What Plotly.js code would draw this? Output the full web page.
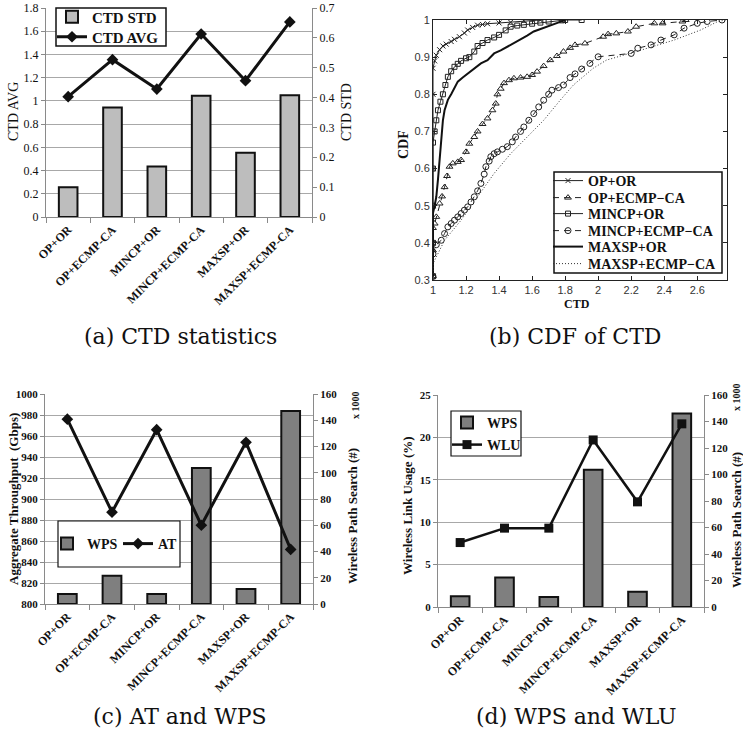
<!DOCTYPE html>
<html>
<head>
<meta charset="utf-8">
<script src="https://cdn.plot.ly/plotly-3.0.1.min.js"></script>
<style>html,body{margin:0;padding:0;background:#fff}#chart{width:743px;height:741px}</style>
</head>
<body>
<div id="chart"></div>
<script>
// ---------- data ----------
const categories = ['OP+OR','OP+ECMP-CA','MINCP+OR','MINCP+ECMP-CA','MAXSP+OR','MAXSP+ECMP-CA'];

// (a) CTD statistics
const ctdStd = [0.100, 0.367, 0.169, 0.406, 0.215, 0.408];
const ctdAvg = [1.036, 1.355, 1.102, 1.576, 1.174, 1.680];

// (b) CDF of CTD
const opOrX = [1,1,1,1,1,1,1,1.01,1.02,1.04,1.06,1.08,1.11,1.13,1.16,1.19,1.21,1.24,1.27,1.30,1.33,1.40,1.47,1.55,1.65];
const opOrY = [0.31,0.40,0.50,0.60,0.70,0.80,0.87,0.89,0.905,0.92,0.93,0.935,0.942,0.948,0.955,0.965,0.973,0.980,0.986,0.988,0.990,0.992,0.994,0.998,1.0];

const opEcmpX = [1,1,1,1.01,1.02,1.04,1.055,1.07,1.085,1.10,1.12,1.15,1.17,1.20,1.22,1.25,1.27,1.30,1.33,1.36,1.38,1.39,1.41,1.43,1.46,1.49,1.53,1.57,1.60,1.63,1.67,1.71,1.75,1.79,1.83,1.86,1.92,2.03,2.06,2.11,2.18,2.23,2.34,2.39,2.51,2.53];
const opEcmpY = [0.31,0.38,0.44,0.452,0.47,0.506,0.525,0.55,0.58,0.605,0.614,0.618,0.623,0.645,0.667,0.685,0.70,0.72,0.735,0.757,0.775,0.80,0.815,0.83,0.838,0.843,0.845,0.847,0.852,0.861,0.876,0.892,0.903,0.915,0.925,0.933,0.937,0.955,0.962,0.964,0.969,0.982,0.991,0.991,0.996,1.0];

const mincpOrX = [1,1,1,1,1,1.01,1.02,1.03,1.045,1.06,1.075,1.09,1.11,1.13,1.15,1.17,1.20,1.22,1.25,1.27,1.30,1.33,1.37,1.40,1.44,1.47,1.51,1.55,1.60,1.65,1.70,1.78,1.80,1.90];
const mincpOrY = [0.31,0.40,0.50,0.60,0.67,0.70,0.73,0.757,0.78,0.80,0.825,0.847,0.862,0.874,0.882,0.89,0.897,0.90,0.915,0.93,0.938,0.946,0.953,0.96,0.972,0.982,0.985,0.987,0.99,0.993,0.996,0.999,1.0,1.0];

const mincpEcmpX = [1,1,1.02,1.05,1.07,1.09,1.11,1.13,1.15,1.17,1.19,1.21,1.23,1.25,1.27,1.29,1.31,1.32,1.34,1.35,1.37,1.39,1.42,1.45,1.48,1.50,1.53,1.55,1.58,1.61,1.64,1.67,1.70,1.72,1.76,1.79,1.83,1.86,1.90,1.95,2.00,2.20,2.24,2.32,2.38,2.46,2.52,2.60,2.66,2.75];
const mincpEcmpY = [0.31,0.37,0.395,0.407,0.425,0.443,0.452,0.461,0.47,0.479,0.488,0.497,0.51,0.524,0.54,0.56,0.585,0.605,0.62,0.632,0.64,0.645,0.652,0.659,0.672,0.685,0.70,0.712,0.73,0.748,0.766,0.784,0.80,0.811,0.818,0.825,0.845,0.855,0.868,0.883,0.901,0.91,0.924,0.933,0.946,0.96,0.978,0.991,0.996,1.0];

const maxspOrX = [1,1,1.01,1.02,1.03,1.04,1.05,1.06,1.07,1.08,1.09,1.11,1.13,1.15,1.18,1.21,1.25,1.29,1.33,1.37,1.41,1.45,1.49,1.53,1.57,1.61,1.65,1.69,1.73,1.77,1.80];
const maxspOrY = [0.31,0.48,0.50,0.524,0.57,0.62,0.686,0.73,0.757,0.775,0.785,0.80,0.818,0.834,0.845,0.856,0.87,0.883,0.892,0.91,0.918,0.928,0.938,0.946,0.958,0.969,0.975,0.982,0.988,0.995,1.0];

const maxspEcmpX = [1,1,1.07,1.17,1.27,1.37,1.47,1.57,1.67,1.77,1.85,1.97,2.05,2.26,2.46,2.62,2.72,2.77];
const maxspEcmpY = [0.30,0.344,0.407,0.461,0.524,0.587,0.64,0.686,0.73,0.784,0.825,0.87,0.892,0.919,0.946,0.973,0.995,1.0];

// (c) AT and WPS
const wpsC = [7.6, 21.6, 7.6, 103.7, 11.4, 147];
const atC = [976, 887.5, 966, 875, 954, 852];

// (d) WPS and WLU
const wpsD = [8.1, 22.3, 7.6, 103.5, 11.6, 146];
const wluD = [7.6, 9.3, 9.3, 19.7, 12.4, 21.6];

// ---------- helpers ----------
const W = 743, H = 741;
const px = v => v / W;
const py = v => 1 - v / H;
const SERIF = "'Liberation Serif', 'Times New Roman', Times, serif";
const SANS = "'Liberation Sans', Arial, sans-serif";
const CAP = "'DejaVu Serif', serif";
const AX = '#8a8a8a', GRID = '#a8a8a8';

const barBase = (y, xa, ya, name, color, leg) => ({
  type: 'bar', x: categories, y: y, xaxis: xa, yaxis: ya, name: name, legend: leg,
  width: 0.42, marker: {color: color, line: {color: '#111', width: 2}}
});

const traces = [
  // (a)
  barBase(ctdStd, 'x', 'y', 'CTD STD', '#bdbdbd', 'legend'),
  {type: 'scatter', mode: 'lines+markers', x: categories, y: ctdAvg, xaxis: 'x', yaxis: 'y2', name: 'CTD AVG', legend: 'legend2',
   line: {color: '#111', width: 3}, marker: {symbol: 'diamond', size: 9, color: '#111'}},
  // (b)
  {type: 'scatter', mode: 'lines+markers', x: opOrX, y: opOrY, xaxis: 'x2', yaxis: 'y3', name: 'OP+OR', legend: 'legend3',
   line: {color: '#222', width: 1}, marker: {symbol: 'x-thin-open', size: 5, color: '#222', line: {color: '#222', width: 1}}},
  {type: 'scatter', mode: 'lines+markers', x: opEcmpX, y: opEcmpY, xaxis: 'x2', yaxis: 'y3', name: 'OP+ECMP\u2212CA', legend: 'legend4',
   line: {color: '#222', width: 1, dash: '6px,5px'}, marker: {symbol: 'triangle-up-open', size: 6, color: '#222', line: {width: 1}}},
  {type: 'scatter', mode: 'lines+markers', x: mincpOrX, y: mincpOrY, xaxis: 'x2', yaxis: 'y3', name: 'MINCP+OR', legend: 'legend5',
   line: {color: '#222', width: 1}, marker: {symbol: 'square-open', size: 5, color: '#222', line: {width: 1}}},
  {type: 'scatter', mode: 'lines+markers', x: mincpEcmpX, y: mincpEcmpY, xaxis: 'x2', yaxis: 'y3', name: 'MINCP+ECMP\u2212CA', legend: 'legend6',
   line: {color: '#222', width: 1, dash: '6px,5px'}, marker: {symbol: 'circle-open', size: 6, color: '#222', line: {width: 1}}},
  {type: 'scatter', mode: 'lines', x: maxspOrX, y: maxspOrY, xaxis: 'x2', yaxis: 'y3', name: 'MAXSP+OR', legend: 'legend7',
   line: {color: '#111', width: 2}},
  {type: 'scatter', mode: 'lines', x: maxspEcmpX, y: maxspEcmpY, xaxis: 'x2', yaxis: 'y3', name: 'MAXSP+ECMP\u2212CA', legend: 'legend8',
   line: {color: '#333', width: 1, dash: '1px,2px'}},
  // (c)
  barBase(wpsC, 'x3', 'y4', 'WPS', '#7f7f7f', 'legend9'),
  {type: 'scatter', mode: 'lines+markers', x: categories, y: atC, xaxis: 'x3', yaxis: 'y5', name: 'AT', legend: 'legend12',
   line: {color: '#111', width: 3}, marker: {symbol: 'diamond', size: 9, color: '#111'}},
  // (d)
  barBase(wpsD, 'x4', 'y6', 'WPS', '#7f7f7f', 'legend10'),
  {type: 'scatter', mode: 'lines+markers', x: categories, y: wluD, xaxis: 'x4', yaxis: 'y7', name: 'WLU', legend: 'legend11',
   line: {color: '#111', width: 2.5}, marker: {symbol: 'square', size: 9, color: '#111'}}
];

const catAxis = (dom, anchor) => ({
  domain: dom, anchor: anchor, type: 'category', tickangle: -45,
  tickfont: {family: SERIF, size: 12, color: '#111', weight: 'bold'},
  ticks: 'outside', tickson: 'boundaries', ticklen: 5, tickcolor: AX,
  showline: true, linecolor: AX, linewidth: 1, showgrid: false, zeroline: false, fixedrange: true
});
const valAxis = (opts, bold) => Object.assign({
  ticks: 'outside', ticklen: 4, tickcolor: AX, showline: true, linecolor: AX, linewidth: 1,
  zeroline: false, tickfont: {family: SERIF, size: bold ? 11 : 12, color: '#111', weight: bold ? 'bold' : 'normal'},
  gridcolor: GRID, gridwidth: 1
}, opts);

const legFont = (s) => ({family: SERIF, size: s, color: '#111', weight: 'bold'});
const oneLegend = (xPix, yPix, s) => ({x: px(xPix), y: py(yPix), xanchor: 'left', yanchor: 'middle',
  bgcolor: 'rgba(0,0,0,0)', borderwidth: 0, font: legFont(s)});

const layout = {
  width: W, height: H, autosize: false,
  margin: {l: 0, r: 0, t: 0, b: 0, pad: 0},
  paper_bgcolor: '#fff', plot_bgcolor: 'rgba(0,0,0,0)',
  barmode: 'group', showlegend: true,
  // (a)
  xaxis: catAxis([px(46), px(312)], 'y'),
  yaxis: valAxis({domain: [py(217), py(8)], anchor: 'x', side: 'right', range: [0, 0.7], dtick: 0.1, tick0: 0, showgrid: false}),
  yaxis2: valAxis({overlaying: 'y', anchor: 'x', side: 'left', range: [0, 1.8], dtick: 0.2, tick0: 0, showgrid: true}),
  // (b)
  xaxis2: {domain: [px(433), px(727)], anchor: 'y3', range: [1, 2.78], dtick: 0.2, tick0: 1,
    ticks: 'inside', ticklen: 4, tickcolor: '#222', showline: true, mirror: 'ticks', linecolor: '#222', linewidth: 1,
    showgrid: false, zeroline: false, tickfont: {family: SANS, size: 11, color: '#333'}},
  yaxis3: {domain: [py(280), py(20)], anchor: 'x2', range: [0.3, 1], dtick: 0.1, tick0: 0.3,
    ticks: 'inside', ticklen: 4, tickcolor: '#222', showline: true, mirror: 'ticks', linecolor: '#222', linewidth: 1,
    showgrid: false, zeroline: false, tickfont: {family: SANS, size: 11, color: '#333'}},
  // (c)
  xaxis3: catAxis([px(45), px(313)], 'y4'),
  yaxis4: valAxis({domain: [py(604), py(394)], anchor: 'x3', side: 'right', range: [0, 160], dtick: 20, tick0: 0, showgrid: false}, true),
  yaxis5: valAxis({overlaying: 'y4', anchor: 'x3', side: 'left', range: [800, 1000], dtick: 20, tick0: 800, showgrid: true}, true),
  // (d)
  xaxis4: catAxis([px(438), px(704)], 'y6'),
  yaxis6: valAxis({domain: [py(607), py(395)], anchor: 'x4', side: 'right', range: [0, 160], dtick: 20, tick0: 0, showgrid: false}, true),
  yaxis7: valAxis({overlaying: 'y6', anchor: 'x4', side: 'left', range: [0, 25], dtick: 5, tick0: 0, showgrid: true}, true),

  // legends: one entry each so rows sit where the reference puts them
  legend: oneLegend(52, 17, 15),
  legend2: oneLegend(52, 37, 15),
  legend3: oneLegend(548, 181, 14),
  legend4: oneLegend(548, 198, 14),
  legend5: oneLegend(548, 214, 14),
  legend6: oneLegend(548, 231, 14),
  legend7: oneLegend(548, 247, 14),
  legend8: oneLegend(548, 264, 14),
  legend9: oneLegend(47, 544, 14),
  legend12: oneLegend(118, 544, 14),
  legend10: oneLegend(447, 423, 14),
  legend11: oneLegend(447, 445, 14),

  shapes: [
    {type: 'rect', xref: 'paper', yref: 'paper', x0: px(56), x1: px(166), y0: py(46), y1: py(8), layer: 'above', fillcolor: '#fff', line: {color: '#111', width: 1.5}},
    {type: 'rect', xref: 'paper', yref: 'paper', x0: px(554), x1: px(722), y0: py(273), y1: py(172), layer: 'above', fillcolor: '#fff', line: {color: '#111', width: 1.5}},
    {type: 'rect', xref: 'paper', yref: 'paper', x0: px(58), x1: px(180), y0: py(567), y1: py(521), layer: 'above', fillcolor: '#fff', line: {color: '#111', width: 1.2}},
    {type: 'rect', xref: 'paper', yref: 'paper', x0: px(451), x1: px(521), y0: py(456), y1: py(411), layer: 'above', fillcolor: '#fff', line: {color: '#111', width: 1.2}}
  ],

  annotations: [
    // axis titles (a)
    {text: 'CTD AVG', x: px(14), y: py(112), textangle: -90, font: {family: SERIF, size: 14, color: '#111'}},
    {text: 'CTD STD', x: px(347), y: py(112), textangle: -90, font: {family: SERIF, size: 14, color: '#111'}},
    // (b)
    {text: 'CDF', x: px(404), y: py(145), textangle: -90, font: {family: SERIF, size: 14, color: '#111', weight: 'bold'}},
    {text: 'CTD', x: px(577), y: py(304), font: {family: SERIF, size: 12, color: '#111', weight: 'bold'}},
    // (c)
    {text: 'Aggregate Throughput  (Gbps)', x: px(13), y: py(499), textangle: -90, font: {family: SERIF, size: 13, color: '#111', weight: 'bold'}},
    {text: 'Wireless Path Search (#)', x: px(352), y: py(516), textangle: -90, font: {family: SERIF, size: 13, color: '#111', weight: 'bold'}},
    {text: 'x 1000', x: px(355), y: py(405), textangle: -90, font: {family: SERIF, size: 10, color: '#111', weight: 'bold'}},
    // (d)
    {text: 'Wireless Link Usage (%)', x: px(407), y: py(506), textangle: -90, font: {family: SERIF, size: 13, color: '#111', weight: 'bold'}},
    {text: 'Wireless Path Search (#)', x: px(736), y: py(520), textangle: -90, font: {family: SERIF, size: 13, color: '#111', weight: 'bold'}},
    {text: 'x 1000', x: px(737), y: py(397), textangle: -90, font: {family: SERIF, size: 10, color: '#111', weight: 'bold'}},
    // captions
    {text: '(a) CTD statistics', x: px(180), y: py(336), font: {family: CAP, size: 22, color: '#111'}},
    {text: '(b) CDF of CTD', x: px(575), y: py(336), font: {family: CAP, size: 22, color: '#111'}},
    {text: '(c) AT and WPS', x: px(180), y: py(716), font: {family: CAP, size: 22, color: '#111'}},
    {text: '(d) WPS and WLU', x: px(576), y: py(716), font: {family: CAP, size: 22, color: '#111'}}
  ].map(a => Object.assign({xref: 'paper', yref: 'paper', showarrow: false, xanchor: 'center', yanchor: 'middle'}, a))
};

Plotly.newPlot('chart', traces, layout, {staticPlot: true, displayModeBar: false});
</script>
</body>
</html>
